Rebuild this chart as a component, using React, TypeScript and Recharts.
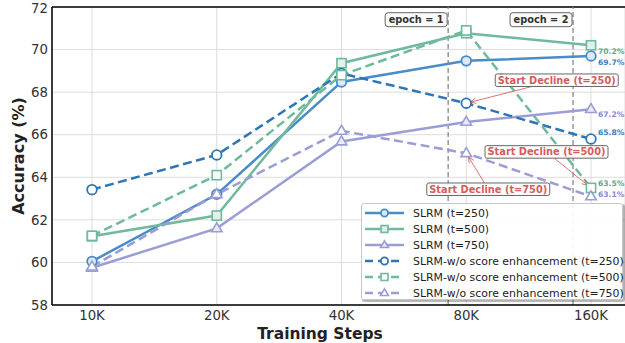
import React from 'react';
import {
  LineChart, Line, XAxis, YAxis, CartesianGrid, ReferenceLine, ReferenceDot, Legend, Label,
} from 'recharts';

// ---- data ----
const stepLabels = ['10K', '20K', '40K', '80K', '160K'];
const slrm250 = [60.05, 63.2, 68.48, 69.47, 69.7];
const slrm500 = [61.23, 62.2, 69.36, 70.77, 70.2];
const slrm750 = [59.75, 61.6, 65.68, 66.6, 67.2];
const wo250 = [63.42, 65.05, 68.88, 67.48, 65.8];
const wo500 = [61.25, 64.1, 68.8, 70.9, 63.5];
const wo750 = [59.8, 63.2, 66.18, 65.13, 63.1];
const yTicks = [58, 60, 62, 64, 66, 68, 70, 72];
const epochMarks = [
  { x: 2.855, label: 'epoch = 1' },
  { x: 3.856, label: 'epoch = 2' },
];
const declineNotes = [
  { text: 'Start Decline (t=250)', values: wo250, idx: 3 },
  { text: 'Start Decline (t=500)', values: wo500, idx: 4 },
  { text: 'Start Decline (t=750)', values: wo750, idx: 3 },
];

// ---- styles ----
const BLUE = '#4a8cc8';
const BLUE_D = '#2d76b6';
const GREEN = '#6fba9b';
const PURPLE = '#9a9dd6';
const RED = '#d65b5b';

const series = [
  { key: 's250', name: 'SLRM (t=250)', values: slrm250, color: BLUE, dashed: false, marker: 'circle', fill: '#dde9f5', lblColor: '#3a7fc0', lblDy: 7 },
  { key: 's500', name: 'SLRM (t=500)', values: slrm500, color: GREEN, dashed: false, marker: 'square', fill: '#e2f2ea', lblColor: '#5aa98a', lblDy: 6 },
  { key: 's750', name: 'SLRM (t=750)', values: slrm750, color: PURPLE, dashed: false, marker: 'triangle', fill: '#e9eaf8', lblColor: '#8588cf', lblDy: 5 },
  { key: 'w250', name: 'SLRM-w/o score enhancement (t=250)', values: wo250, color: BLUE_D, dashed: true, marker: 'circle', fill: '#ffffff', lblColor: '#3a7fc0', lblDy: -6.5 },
  { key: 'w500', name: 'SLRM-w/o score enhancement (t=500)', values: wo500, color: GREEN, dashed: true, marker: 'square', fill: '#ffffff', lblColor: '#5aa98a', lblDy: -4.5 },
  { key: 'w750', name: 'SLRM-w/o score enhancement (t=750)', values: wo750, color: PURPLE, dashed: true, marker: 'triangle', fill: '#ffffff', lblColor: '#8588cf', lblDy: -2 },
];

const noteOffsets = [
  { dx: 90.5, dy: -23 },
  { dx: -44.5, dy: -36 },
  { dx: 22, dy: 36 },
];

const data = stepLabels.map((_, i) => {
  const row: any = { x: i };
  series.forEach((s) => { row[s.key] = s.values[i]; });
  return row;
});

const FONT = 'DejaVu Sans, sans-serif';

function Marker({ cx, cy, type, color, fill, scale = 1 }: any) {
  if (cx == null || cy == null) return null;
  if (type === 'circle') return <circle cx={cx} cy={cy} r={4.8 * scale} fill={fill} stroke={color} strokeWidth={1.8} />;
  if (type === 'square') {
    const h = 4.6 * scale;
    return <rect x={cx - h} y={cy - h} width={2 * h} height={2 * h} fill={fill} stroke={color} strokeWidth={1.6} />;
  }
  const r = 5.6 * scale;
  return (
    <polygon
      points={`${cx},${cy - r} ${cx + r * 0.95},${cy + r * 0.6} ${cx - r * 0.95},${cy + r * 0.6}`}
      fill={fill} stroke={color} strokeWidth={1.6} strokeLinejoin="miter"
    />
  );
}

function LegendBox() {
  return (
    <div style={{
      width: 262, height: 97, boxSizing: 'border-box', border: '1px solid #c8c8c8', borderRadius: 3,
      background: 'rgba(255,255,255,0.92)', boxShadow: '1.5px 1.5px 1px rgba(0,0,0,0.3)',
      fontFamily: FONT, fontSize: 10.9, color: '#222', paddingTop: 1,
    }}>
      {series.map((s) => (
        <div key={s.key} style={{ display: 'flex', alignItems: 'center', height: 16 }}>
          <svg width={46} height={16} style={{ flex: 'none' }}>
            <line x1={3} x2={42} y1={8} y2={8} stroke={s.color} strokeWidth={2.5}
              strokeDasharray={s.dashed ? '8 5' : undefined} />
            <Marker cx={22.5} cy={8} type={s.marker} color={s.color} fill={s.fill} scale={0.75} />
          </svg>
          <span style={{ marginLeft: 5, whiteSpace: 'nowrap' }}>{s.name}</span>
        </div>
      ))}
    </div>
  );
}

function NoteShape(props: any) {
  const { cx, cy, text, dx, dy } = props;
  if (cx == null) return null;
  const fontSize = 9.8;
  const w = 123;
  const h = 12.5;
  const bx = cx + dx;
  const by = cy + dy;
  const vx = cx - bx;
  const vy = cy - by;
  const tx = Math.abs(vx) > 0 ? (w / 2) / Math.abs(vx) : Infinity;
  const ty = Math.abs(vy) > 0 ? (h / 2) / Math.abs(vy) : Infinity;
  const t = Math.min(tx, ty);
  const sx = bx + vx * t;
  const sy = by + vy * t;
  const len = Math.hypot(cx - sx, cy - sy);
  const ux = (cx - sx) / len;
  const uy = (cy - sy) / len;
  const ex = cx - ux * 4;
  const ey = cy - uy * 4;
  const ah = 6;
  const aw = 2.6;
  const p1x = ex - ux * ah - uy * aw;
  const p1y = ey - uy * ah + ux * aw;
  const p2x = ex - ux * ah + uy * aw;
  const p2y = ey - uy * ah - ux * aw;
  return (
    <g>
      <line x1={sx} y1={sy} x2={ex} y2={ey} stroke={RED} strokeWidth={1} opacity={0.85} />
      <polyline points={`${p1x},${p1y} ${ex},${ey} ${p2x},${p2y}`} fill="none" stroke={RED} strokeWidth={1} opacity={0.85} />
      <rect x={bx - w / 2} y={by - h / 2} width={w} height={h} rx={2} fill="rgba(255,255,255,0.92)" stroke="#555" strokeWidth={0.9} />
      <text x={bx} y={by} textAnchor="middle" dominantBaseline="central" fontFamily={FONT} fontWeight="bold" fontSize={fontSize} fill={RED}>
        {text}
      </text>
    </g>
  );
}

function EpochLabel(props: any) {
  const { viewBox, value } = props;
  if (!viewBox) return null;
  const x = viewBox.x;
  const w = 62;
  const h = 14;
  const cx = x - 1 - w / 2;
  const cy = 19.7;
  return (
    <g>
      <rect x={cx - w / 2} y={cy - h / 2} width={w} height={h} rx={3} fill="rgba(250,250,250,0.95)" stroke="#555" strokeWidth={0.9} />
      <text x={cx} y={cy} textAnchor="middle" dominantBaseline="central" fontFamily={FONT} fontWeight="bold" fontSize={9.8} fill="#333">
        {value}
      </text>
    </g>
  );
}

function EndLabel(props: any) {
  const { x, y, value, index, color, dy } = props;
  if (index !== stepLabels.length - 1) return null;
  return (
    <text x={x + 7} y={y + dy} dominantBaseline="central" fontFamily={FONT} fontWeight="bold" fontSize={7.6} fill={color}>
      {`${Number(value).toFixed(1)}%`}
    </text>
  );
}

export default function App() {
  return (
    <div style={{ position: 'absolute', left: 0, top: 0, width: 625, height: 343, overflow: 'hidden', background: '#fff' }}>
      <LineChart width={625} height={343} data={data} margin={{ top: 7, right: 0, bottom: 0, left: 0 }}>
        <CartesianGrid stroke="#dcdcdc" strokeWidth={1} />
        <XAxis
          dataKey="x" type="number" domain={[-0.3206, 4.2725]} allowDataOverflow
          ticks={[0, 1, 2, 3, 4]} tickFormatter={(v: number) => stepLabels[v]}
          height={38} tickSize={0} tickMargin={6}
          axisLine={{ stroke: '#000', strokeWidth: 1.5 }}
          tick={{ fontFamily: FONT, fontSize: 13.3, fill: '#333' }}
        >
          <Label value="Training Steps" position="insideBottom" offset={4} dx={-18.5}
            style={{ fontFamily: FONT, fontWeight: 'bold', fontSize: 15.5, fill: '#222' }} />
        </XAxis>
        <YAxis
          type="number" domain={[58, 72]} ticks={yTicks} allowDataOverflow
          width={52} tickSize={0} tickMargin={4}
          axisLine={{ stroke: '#000', strokeWidth: 1.5 }}
          tick={{ fontFamily: FONT, fontSize: 13.3, fill: '#333' }}
        >
          <Label value="Accuracy (%)" angle={-90} position="insideLeft" offset={0} dx={18}
            style={{ fontFamily: FONT, fontWeight: 'bold', fontSize: 16, fill: '#222', textAnchor: 'middle' }} />
        </YAxis>
        <ReferenceLine y={72} stroke="#000" strokeWidth={1.5} ifOverflow="visible" />
        {epochMarks.map((e) => (
          <ReferenceLine key={e.label} x={e.x} stroke="#888" strokeWidth={1.3} strokeDasharray="5 3"
            label={<EpochLabel value={e.label} />} />
        ))}
        {series.map((s) => (
          <Line
            key={s.key} dataKey={s.key} name={s.name} type="linear" stroke={s.color}
            strokeWidth={2.5} strokeDasharray={s.dashed ? '9 4.5' : undefined}
            isAnimationActive={false}
            dot={(p: any) => <Marker key={`${s.key}-${p.index}`} cx={p.cx} cy={p.cy} type={s.marker} color={s.color} fill={s.fill} />}
            activeDot={false}
            label={(p: any) => <EndLabel key={`${s.key}-l-${p.index}`} {...p} color={s.lblColor} dy={s.lblDy} />}
          />
        ))}
        {declineNotes.map((n, i) => (
          <ReferenceDot key={n.text} x={n.idx} y={n.values[n.idx]} r={0} ifOverflow="visible"
            shape={(p: any) => <NoteShape {...p} text={n.text} dx={noteOffsets[i].dx} dy={noteOffsets[i].dy} />} />
        ))}
        <Legend layout="vertical" align="center" verticalAlign="middle"
          wrapperStyle={{ left: 361, top: 203, width: 262, height: 97 }}
          content={() => <LegendBox />} />
      </LineChart>
    </div>
  );
}
